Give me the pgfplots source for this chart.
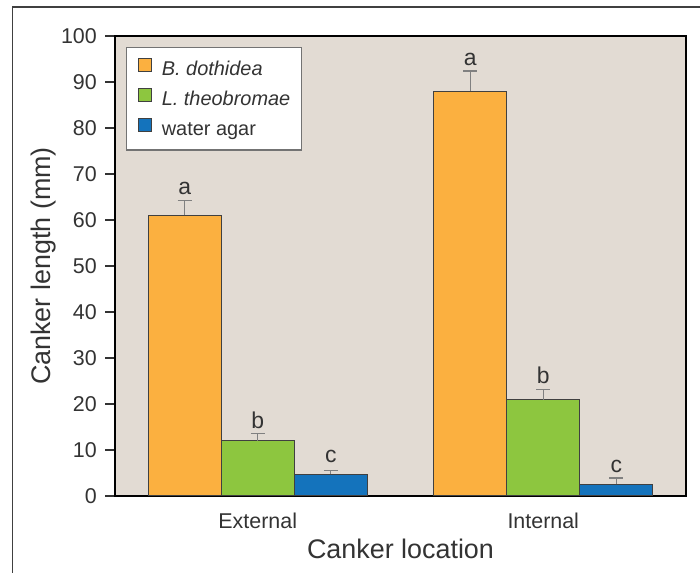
\documentclass[border=0pt]{standalone}
\usepackage{fontspec}
\setmainfont{Liberation Sans}
\usepackage{pgfplots}
\pgfplotsset{compat=1.18}
\definecolor{bgc}{HTML}{E2DBD3}
\definecolor{cor}{HTML}{FBB040}
\definecolor{cgr}{HTML}{8DC63F}
\definecolor{cbl}{HTML}{1473BC}
\definecolor{txt}{HTML}{333333}
\begin{document}
\begin{tikzpicture}
\path[use as bounding box] (0,0) rectangle (700bp,573bp);
\draw[line width=1.2bp, black!75] (12.5bp,0) -- (12.5bp,566bp) -- (700bp,566bp);
\begin{axis}[
 at={(115bp,77bp)}, anchor=south west,
 scale only axis, width=571bp, height=460bp,
 xmin=-0.5, xmax=1.5, ymin=0, ymax=100,
 axis background/.style={fill=bgc},
 axis line style={line width=1.8bp, black},
 xtick={0,1}, xticklabels={External, Internal},
 ytick={0,10,...,100},
 tick align=outside,
 major tick length=10bp,
 xtick style={draw=none},
 ytick style={line width=1.2bp, txt},
 ytick pos=left, xtick pos=bottom,
 tick label style={font=\fontsize{21.5}{24}\selectfont, text=txt},
 /pgf/number format/assume math mode=true,
 xticklabel style={anchor=base, yshift=-23bp, inner sep=0pt},
 yticklabel style={anchor=east, inner sep=0pt, xshift=-8bp},
 xlabel={Canker location}, ylabel={Canker length (mm)},
 label style={font=\fontsize{27}{30}\selectfont, text=txt},
 xlabel style={at={(axis description cs:0.5,-0.1348)}, anchor=base, inner sep=0pt},
 ylabel style={at={(axis description cs:-0.1033,0.5)}, anchor=south, inner sep=0pt},
 legend style={at={(axis description cs:0.0193,0.976)}, anchor=north west,
   draw=black!55, line width=1.2bp, fill=white,
   font=\fontsize{20}{22}\selectfont, text=txt,
   inner xsep=11bp, inner ysep=10bp, row sep=8bp, column sep=10bp,
   nodes={inner sep=0pt, text height=14bp, text depth=4bp}},
 legend cell align=left,
 legend image code/.code={\draw[#1, line width=1.2bp] (0bp,-0.5bp) rectangle (13bp,12.5bp);},
 ebar/.style={draw=none, mark=none, forget plot,
   error bars/.cd, y dir=plus, y explicit,
   error bar style={line width=1.3bp, black!50},
   error mark options={line width=1.3bp, black!50, mark size=7bp, rotate=90}},
]
\addplot[ybar, bar width=0.256, bar shift=-0.256, fill=cor, draw=black!75, line width=1.2bp]
  coordinates {(0,61) (1,88)};
\addplot[ybar, bar width=0.256, bar shift=0, fill=cgr, draw=black!75, line width=1.2bp]
  coordinates {(0,12) (1,20.9)};
\addplot[ybar, bar width=0.256, bar shift=0.256, fill=cbl, draw=black!75, line width=1.2bp]
  coordinates {(0,4.7) (1,2.5)};
\addplot[ebar] coordinates {(-0.256,61) +- (0,3.3) (0.744,88) +- (0,4.4)
  (0,12) +- (0,1.6) (1,20.9) +- (0,2.3) (0.256,4.7) +- (0,0.8) (1.256,2.5) +- (0,1.4)};
\addplot[draw=none, mark=none, forget plot, nodes near coords, point meta=explicit symbolic,
  nodes near coords style={anchor=south, inner sep=0pt, yshift=5bp, font=\fontsize{23}{25}\selectfont, text=txt}]
  coordinates {(-0.256,64.3)[a] (0,13.6)[b] (0.256,6.2)[c] (0.744,92.4)[a] (1,23.2)[b] (1.256,3.9)[c]};
\legend{\textit{B. dothidea}, \textit{L. theobromae}, water agar}
\end{axis}
\end{tikzpicture}
\end{document}
